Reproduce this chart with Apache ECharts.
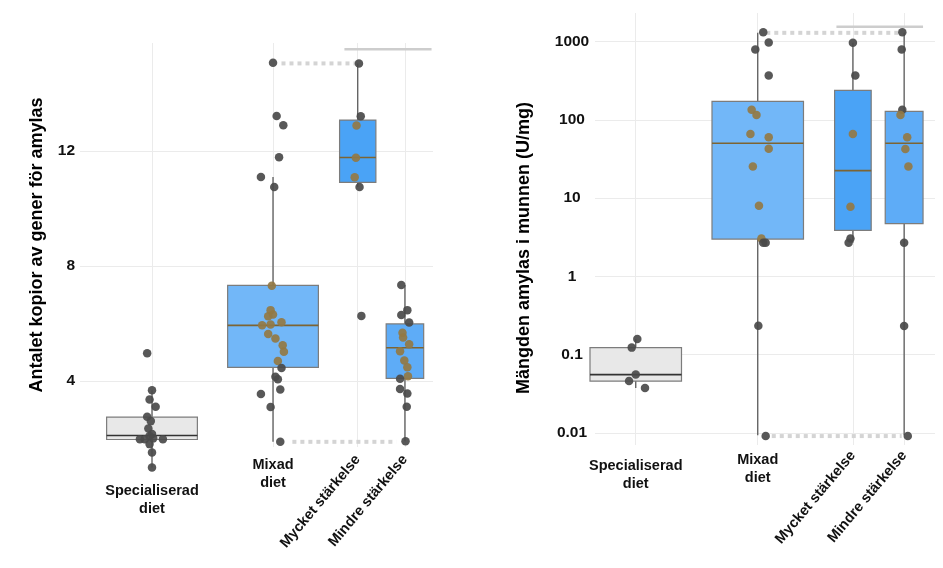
<!DOCTYPE html>
<html>
<head>
<meta charset="utf-8">
<script src="https://cdn.jsdelivr.net/npm/echarts@6.0.0/dist/echarts.min.js"></script>
<style>
  html, body { margin: 0; background: #fff; }
  #chart { width: 943px; height: 568px; }
</style>
</head>
<body>
<div id="chart"></div>
<script>
var categories = ['Specialiserad\ndiet', 'Mixad\ndiet', 'Mycket stärkelse', 'Mindre stärkelse'];

// left panel: gene copies for amylase
var copySpec = [4.96, 3.67, 3.35, 3.10, 2.75, 2.60, 2.34, 2.15, 2.08, 1.97, 1.97, 2.00, 1.97, 1.80, 1.51, 0.99];
var copyMixad = [15.06, 13.21, 12.89, 11.78, 11.09, 10.74, 7.31, 6.46, 6.31, 6.25, 6.04, 5.93, 5.96, 5.63, 5.47, 5.24, 5.01, 4.69, 4.45, 4.14, 4.06, 3.70, 3.54, 3.09, 1.88];
var copyMycket = [15.04, 13.20, 12.88, 11.76, 11.08, 10.74, 6.26];
var copyMindre = [7.33, 6.46, 6.29, 6.03, 5.67, 5.51, 5.27, 5.03, 4.71, 4.47, 4.16, 4.07, 3.72, 3.56, 3.10, 1.90];
// low whisker, q1, median, q3, high whisker
var copyBoxes = [[0.99, 1.96, 2.10, 2.74, 3.67], [1.88, 4.47, 5.93, 7.32, 11.09], [10.74, 10.90, 11.77, 13.07, 15.04], [1.90, 4.09, 5.15, 5.98, 7.33]];
var copyTicks = [4, 8, 12];

// right panel: amylase in the mouth (U/mg)
var amySpec = [0.158, 0.123, 0.0556, 0.0461, 0.0375];
var amyMixad = [1318, 980, 797, 369, 135, 116, 66, 60, 43, 25.5, 8.0, 3.06, 2.7, 2.7, 0.234, 0.0091];
var amyMycket = [970, 369, 66, 7.8, 3.06, 2.7];
var amyMindre = [1318, 797, 135, 116, 60, 42.6, 25.5, 2.7, 0.232, 0.0091];
var amyBoxes = [[0.0375, 0.046, 0.0556, 0.123, 0.158], [0.0093, 3.0, 50.4, 173, 1300], [2.7, 3.88, 22.5, 239, 970], [0.0093, 4.73, 50.4, 128.6, 1300]];
var amyTicks = [0.01, 0.1, 1, 10, 100, 1000];

// layout: group positions on the x axis and point jitter (axis units)
var copyPos = [1, 2, 2.70, 3.09];
var amyPos = [1, 2, 2.78, 3.20];
var copyJitter = [
  [-0.04, 0, -0.02, 0.03, -0.04, -0.01, -0.03, 0, -0.02, -0.10, -0.06, 0.01, 0.09, -0.02, 0, 0],
  [0, 0.03, 0.085, 0.05, -0.1, 0.01, -0.01, -0.02, 0, -0.04, 0.07, -0.09, -0.02, -0.04, 0.02, 0.08, 0.09, 0.04, 0.07, 0.02, 0.04, 0.06, -0.1, -0.02, 0.06],
  [0.01, 0.025, -0.01, -0.015, -0.025, 0.015, 0.03],
  [-0.03, 0.02, -0.03, 0.035, -0.02, -0.015, 0.035, -0.04, -0.005, 0.02, 0.025, -0.04, -0.04, 0.02, 0.015, 0.005]
];
var amyJitter = [
  [0.013, -0.033, 0, -0.055, 0.076],
  [0.045, 0.09, -0.02, 0.09, -0.05, -0.01, -0.06, 0.09, 0.09, -0.04, 0.01, 0.03, 0.045, 0.065, 0.005, 0.065],
  [0, 0.02, 0, -0.02, -0.02, -0.035],
  [-0.015, -0.02, -0.015, -0.03, 0.025, 0.01, 0.035, 0, 0, 0.03]
];
var boxWidth = [0.75, 0.75, 0.3, 0.31];
var boxFill = ['#e8e8e8', '#72b7f8', '#4aa3f6', '#5eacf7'];

var font = 'Liberation Sans, Arial, Helvetica, sans-serif';
var gridColor = '#ebebeb';

var chart = echarts.init(document.getElementById('chart'));

function pointData(groups, pos, jitter, boxes) {
  var out = [];
  groups.forEach(function (vals, g) {
    vals.forEach(function (v, i) {
      var b = boxes[g];
      var inside = g > 0 && v >= b[1] && v <= b[3];
      out.push({
        value: [pos[g] + jitter[g][i], v],
        itemStyle: { color: inside ? '#927844' : '#4a4a4a', opacity: 0.92 }
      });
    });
  });
  return out;
}

function boxSeries(gi, pos, boxes) {
  return {
    type: 'custom',
    xAxisIndex: gi * 3,
    yAxisIndex: gi,
    z: 2,
    clip: false,
    silent: true,
    data: boxes.map(function (b, g) { return [pos[g]].concat(b); }),
    renderItem: function (params, api) {
      var g = params.dataIndex;
      var x = api.value(0);
      var hw = boxWidth[g] / 2;
      var lo = api.coord([x, api.value(1)]);
      var q1 = api.coord([x, api.value(2)]);
      var med = api.coord([x, api.value(3)]);
      var q3 = api.coord([x, api.value(4)]);
      var hi = api.coord([x, api.value(5)]);
      var xl = api.coord([x - hw, api.value(3)])[0];
      var xr = api.coord([x + hw, api.value(3)])[0];
      var wk = { stroke: '#5a5a5a', lineWidth: 1.3 };
      return {
        type: 'group',
        children: [
          { type: 'line', shape: { x1: lo[0], y1: lo[1], x2: q1[0], y2: q1[1] }, style: wk },
          { type: 'line', shape: { x1: q3[0], y1: q3[1], x2: hi[0], y2: hi[1] }, style: wk },
          { type: 'rect', shape: { x: xl, y: q3[1], width: xr - xl, height: q1[1] - q3[1] },
            style: { fill: boxFill[g], stroke: '#7c7c7c', lineWidth: 1.2 } },
          { type: 'line', shape: { x1: xl, y1: med[1], x2: xr, y2: med[1] },
            style: { stroke: g === 0 ? '#333' : '#7d6433', lineWidth: 1.6 } }
        ]
      };
    }
  };
}

function linkSeries(gi, x1, x2, y, dotted) {
  return {
    type: 'line',
    xAxisIndex: gi * 3,
    yAxisIndex: gi,
    data: [[x1, y], [x2, y]],
    symbol: 'none',
    silent: true,
    z: 3,
    clip: false,
    lineStyle: dotted
      ? { color: '#d4d4d4', width: 4, type: [4, 4] }
      : { color: '#cdcdcd', width: 2.5, type: 'solid' }
  };
}

function xAxes(gi, pos, min, max, specMargin, mixMargin, rotMargin) {
  var lab = { fontFamily: font, fontWeight: 'bold', fontSize: 14.5, color: '#111', lineHeight: 18 };
  function base(extra) {
    return Object.assign({
      type: 'value', gridIndex: gi, min: min, max: max, position: 'bottom',
      axisLine: { show: false }, axisTick: { show: false }, splitLine: { show: false }
    }, extra);
  }
  function name(v) { return categories[pos.indexOf(v)]; }
  return [
    base({
      axisTick: { show: false, customValues: pos },
      axisLabel: { show: false },
      splitLine: { show: true, lineStyle: { color: gridColor, width: 1 } }
    }),
    base({ axisLabel: Object.assign({ customValues: [pos[0]], formatter: name, margin: specMargin }, lab) }),
    base({ axisLabel: Object.assign({ customValues: [pos[1]], formatter: name, margin: mixMargin }, lab) }),
    base({ axisLabel: Object.assign({ customValues: [pos[2], pos[3]], formatter: name, margin: rotMargin, rotate: 50 }, lab) })
  ];
}

var leftX = xAxes(0, copyPos, 0.405, 3.322, 35, 9, 10);
var rightX = xAxes(1, amyPos, 0.666, 3.453, 12, 6, 8);
// keep the main axis of each grid at index gi*3... rebuild order
var allX = [leftX[0], leftX[1], leftX[2], rightX[0], rightX[1], rightX[2], leftX[3], rightX[3]];

var option = {
  backgroundColor: '#fff',
  animation: false,
  grid: [
    { left: 80, right: 510, top: 43, bottom: 121 },
    { left: 595, right: 8, top: 13, bottom: 123 }
  ],
  xAxis: allX,
  yAxis: [
    {
      type: 'value', gridIndex: 0, min: 1.7, max: 15.75,
      name: 'Antalet kopior av gener för amylas', nameLocation: 'middle', nameGap: 34,
      nameTextStyle: { fontFamily: font, fontWeight: 'bold', fontSize: 18, color: '#000' },
      axisLine: { show: false },
      axisTick: { show: false, customValues: copyTicks },
      axisLabel: { customValues: copyTicks, margin: 5, fontFamily: font, fontWeight: 'bold', fontSize: 15.5, color: '#111' },
      splitLine: { show: true, lineStyle: { color: gridColor } }
    },
    {
      type: 'log', logBase: 10, gridIndex: 1, min: 0.007, max: 2330,
      name: 'Mängden amylas i munnen (U/mg)', nameLocation: 'middle', nameGap: 62,
      nameTextStyle: { fontFamily: font, fontWeight: 'bold', fontSize: 18, color: '#000', padding: [0, 38, 0, 0] },
      axisLine: { show: false },
      axisTick: { show: false, customValues: amyTicks },
      axisLabel: { customValues: amyTicks, margin: 23, align: 'center', fontFamily: font, fontWeight: 'bold', fontSize: 15.5, color: '#111',
        formatter: function (v) { return String(v); } },
      splitLine: { show: true, lineStyle: { color: gridColor } }
    }
  ],
  series: [
    boxSeries(0, copyPos, copyBoxes),
    boxSeries(1, amyPos, amyBoxes),
    linkSeries(0, copyPos[1] + 0.07, copyPos[2] - 0.01, copyBoxes[2][4], true),
    linkSeries(0, copyPos[1] + 0.16, copyPos[3] - 0.07, copyBoxes[1][0], true),
    linkSeries(0, copyPos[2] - 0.11, copyPos[3] + 0.22, 15.53, false),
    linkSeries(1, amyPos[1] + 0.07, amyPos[3] - 0.05, amyBoxes[1][4], true),
    linkSeries(1, amyPos[1] + 0.115, amyPos[3] - 0.02, amyMixad[amyMixad.length - 1], true),
    linkSeries(1, amyPos[2] - 0.135, amyPos[3] + 0.155, 1560, false),
    {
      type: 'scatter', xAxisIndex: 0, yAxisIndex: 0, z: 5, clip: false, symbolSize: 8.5,
      data: pointData([copySpec, copyMixad, copyMycket, copyMindre], copyPos, copyJitter, copyBoxes)
    },
    {
      type: 'scatter', xAxisIndex: 3, yAxisIndex: 1, z: 5, clip: false, symbolSize: 8.5,
      data: pointData([amySpec, amyMixad, amyMycket, amyMindre], amyPos, amyJitter, amyBoxes)
    }
  ]
};

// the rotated label axes were appended last; point them at their grids
option.xAxis[6].gridIndex = 0;
option.xAxis[7].gridIndex = 1;

chart.setOption(option);
</script>
</body>
</html>
